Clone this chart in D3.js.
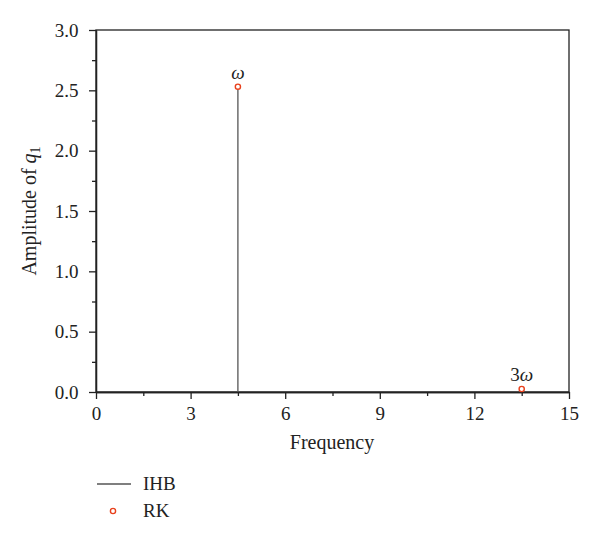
<!DOCTYPE html>
<html><head><meta charset="utf-8">
<script src="https://cdn.jsdelivr.net/npm/d3@7"></script>
<style>body{margin:0;background:#fff}svg{display:block}text{font-family:"Liberation Serif","DejaVu Serif",serif;fill:#222}</style>
</head><body><svg id="c" width="600" height="537"></svg>
<script>
const freqs = [4.5, 13.5];
const ihbAmp = [2.53, 0.025];
const rkAmp = [2.53, 0.025];
const peakLabels = ["ω", "3ω"];
const xTicks = [0, 3, 6, 9, 12, 15];
const yTicks = [0, 0.5, 1.0, 1.5, 2.0, 2.5, 3.0];

const svg = d3.select("#c");
const x = d3.scaleLinear().domain([0, 15]).range([96, 569]);
const y = d3.scaleLinear().domain([0, 3]).range([392, 30]);
const fs = 19, fsT = 20;

// frame
svg.append("rect").attr("x", 96).attr("y", 30).attr("width", 473).attr("height", 362)
  .attr("fill", "none").attr("stroke", "#222").attr("stroke-width", 1.3);

// x axis
const xa = svg.append("g").attr("transform", "translate(0,392)");
xa.call(d3.axisBottom(x).tickValues(xTicks).tickSize(7).tickSizeOuter(0).tickFormat(d3.format("d")));
xa.append("g").call(d3.axisBottom(x).tickValues(d3.range(1.5, 15, 3)).tickSize(4).tickSizeOuter(0).tickFormat(""));
// y axis
const ya = svg.append("g").attr("transform", "translate(96,0)");
ya.call(d3.axisLeft(y).tickValues(yTicks).tickSize(7).tickSizeOuter(0).tickFormat(d3.format(".1f")));
ya.append("g").call(d3.axisLeft(y).tickValues(d3.range(0.25, 3, 0.5)).tickSize(4).tickSizeOuter(0).tickFormat(""));
svg.selectAll("g").attr("font-size", null).attr("font-family", null);
svg.selectAll(".domain").attr("stroke", "#222").attr("stroke-width", 1.3);
svg.selectAll(".tick line").attr("stroke", "#222").attr("stroke-width", 1.3);
svg.selectAll(".tick text").style("font-size", fs + "px").style("font-family", "'Liberation Serif', serif").attr("fill", "#222");
xa.selectAll(".tick text").attr("dy", "0.95em");
ya.selectAll(".tick text").attr("dx", "-0.4em");

// axis titles
svg.append("text").attr("x", 332).attr("y", 449).attr("text-anchor", "middle").style("font-size", fsT + "px").text("Frequency");
const yt = svg.append("text").attr("transform", "translate(36,211) rotate(-90)").attr("text-anchor", "middle").style("font-size", fsT + "px");
yt.append("tspan").text("Amplitude of ");
yt.append("tspan").attr("font-style", "italic").text("q");
yt.append("tspan").style("font-size", "14px").attr("dy", 4).text("1");

// IHB stems
svg.append("g").selectAll("line").data(freqs).join("line")
  .attr("x1", d => x(d)).attr("x2", d => x(d))
  .attr("y1", y(0)).attr("y2", (d, i) => y(ihbAmp[i]))
  .attr("stroke", "#555").attr("stroke-width", 1.3);

// RK points
svg.append("g").selectAll("circle").data(freqs).join("circle")
  .attr("cx", d => x(d)).attr("cy", (d, i) => y(rkAmp[i])).attr("r", 2.6)
  .attr("fill", "#fff").attr("stroke", "#e8401c").attr("stroke-width", 1.4);

// peak labels
svg.append("g").selectAll("text").data(freqs).join("text")
  .attr("x", d => x(d)).attr("y", (d, i) => y(rkAmp[i]) - 8)
  .attr("text-anchor", "middle").style("font-size", fs + "px").attr("font-style", "italic")
  .each(function(d, i) {
    const t = d3.select(this);
    const s = peakLabels[i];
    if (s.length > 1) { t.append("tspan").attr("font-style", "normal").text(s.slice(0, -1)); }
    t.append("tspan").text(s.slice(-1));
  });

// legend
const lg = svg.append("g");
lg.append("line").attr("x1", 97).attr("x2", 131).attr("y1", 484).attr("y2", 484).attr("stroke", "#555").attr("stroke-width", 1.3);
lg.append("text").attr("x", 143).attr("y", 490).style("font-size", fs + "px").text("IHB");
lg.append("circle").attr("cx", 113).attr("cy", 511).attr("r", 2.6).attr("fill", "#fff").attr("stroke", "#e8401c").attr("stroke-width", 1.4);
lg.append("text").attr("x", 143).attr("y", 517).style("font-size", fs + "px").text("RK");
</script></body></html>
